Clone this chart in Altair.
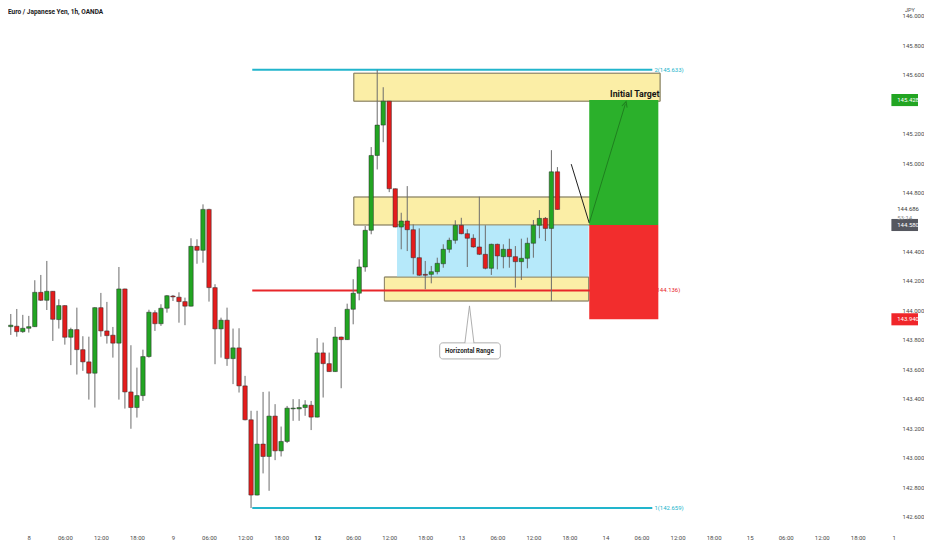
import altair as alt
import pandas as pd

# ---------------- data ----------------
slots = list(range(-4, 89))
opens = [143.922, 143.890, 143.893, 143.856, 143.879, 143.890, 144.123, 144.069, 144.130, 143.938,
         144.033, 143.818, 143.870, 143.734, 143.651, 143.574, 144.019, 143.861, 143.832, 143.778,
         144.146, 143.447, 143.341, 143.422, 143.687, 143.985, 143.910, 144.015, 144.098, 144.090,
         144.060, 144.029, 144.435, 144.408, 144.686, 144.155, 143.875, 143.934, 143.673, 143.746,
         143.488, 143.258, 142.747, 143.093, 143.009, 143.283, 143.047, 143.111, 143.332, 143.332,
         143.341, 143.357, 143.276, 143.712, 143.639, 143.585, 143.820, 143.802, 144.008, 144.117,
         144.295, 144.544, 145.052, 145.258, 145.420, 144.826, 144.566, 144.607, 144.548, 144.358,
         144.245, 144.245, 144.263, 144.317, 144.415, 144.476, 144.578, 144.521, 144.490, 144.431,
         144.381, 144.286, 144.449, 144.365, 144.415, 144.365, 144.331, 144.354, 144.456, 144.578,
         144.625, 144.557, 144.941]
highs = [144.024, 143.976, 144.010, 143.970, 143.963, 144.205, 144.241, 144.336, 144.132, 144.076,
         144.035, 143.883, 144.019, 143.825, 143.822, 144.022, 144.119, 144.058, 143.888, 144.295,
         144.148, 143.764, 143.612, 143.734, 144.005, 144.001, 144.042, 144.105, 144.105, 144.123,
         144.087, 144.490, 144.483, 144.720, 144.690, 144.178, 143.951, 144.019, 143.877, 143.879,
         143.556, 143.319, 143.319, 143.447, 143.450, 143.364, 143.212, 143.352, 143.398, 143.398,
         143.391, 143.386, 143.812, 143.782, 143.714, 143.888, 143.822, 144.046, 144.212, 144.347,
         144.573, 145.109, 145.633, 145.515, 145.422, 144.828, 144.663, 144.844, 144.584, 144.557,
         144.336, 144.302, 144.358, 144.449, 144.494, 144.612, 144.629, 144.551, 144.517, 144.772,
         144.578, 144.453, 144.453, 144.449, 144.487, 144.437, 144.487, 144.494, 144.614, 144.681,
         144.634, 145.088, 144.973]
lows = [143.820, 143.834, 143.822, 143.848, 143.850, 143.888, 144.064, 144.003, 143.793, 143.877,
        143.768, 143.629, 143.565, 143.590, 143.395, 143.341, 143.822, 143.775, 143.680, 143.395,
        143.334, 143.197, 143.273, 143.386, 143.680, 143.861, 143.895, 143.985, 144.064, 143.917,
        143.900, 144.027, 144.317, 144.324, 144.060, 143.635, 143.680, 143.624, 143.500, 143.443,
        143.254, 142.659, 142.745, 142.894, 142.776, 142.984, 143.009, 143.100, 143.251, 143.251,
        143.285, 143.188, 143.274, 143.409, 143.583, 143.583, 143.472, 143.800, 143.906, 144.069,
        144.263, 144.517, 144.957, 145.142, 144.803, 144.564, 144.415, 144.403, 144.245, 144.234,
        144.144, 144.184, 144.245, 144.290, 144.392, 144.453, 144.517, 144.295, 144.426, 144.376,
        144.279, 144.241, 144.279, 144.286, 144.290, 144.155, 144.207, 144.286, 144.358, 144.490,
        144.471, 144.064, 144.684]
closes = [143.902, 143.900, 143.856, 143.879, 143.890, 144.123, 144.069, 144.130, 143.940, 144.033,
          143.818, 143.870, 143.734, 143.651, 143.574, 144.019, 143.861, 143.829, 143.778, 144.146,
          143.447, 143.341, 143.422, 143.687, 143.988, 143.910, 144.015, 144.100, 144.092, 144.060,
          144.029, 144.435, 144.408, 144.686, 144.155, 143.875, 143.934, 143.673, 143.746, 143.488,
          143.258, 142.747, 143.093, 143.009, 143.283, 143.047, 143.111, 143.337, 143.337, 143.341,
          143.359, 143.276, 143.712, 143.639, 143.585, 143.820, 143.802, 144.008, 144.117, 144.295,
          144.544, 145.052, 145.258, 145.420, 144.826, 144.566, 144.607, 144.548, 144.358, 144.239,
          144.239, 144.263, 144.320, 144.415, 144.476, 144.578, 144.521, 144.490, 144.431, 144.381,
          144.286, 144.449, 144.370, 144.415, 144.365, 144.331, 144.354, 144.456, 144.578, 144.625,
          144.557, 144.941, 144.686]

tick_slots = list(range(0, 145, 6))
tick_labels = ["8", "06:00", "12:00", "18:00", "9", "06:00", "12:00", "18:00",
               "12", "06:00", "12:00", "18:00", "13", "06:00", "12:00", "18:00",
               "14", "06:00", "12:00", "18:00", "15", "06:00", "12:00", "18:00", "1"]
# 145.400 and 144.600 sit under the price tags in the picture
price_ticks = [142.6, 142.8, 143.0, 143.2, 143.4, 143.6, 143.8, 144.0, 144.2,
               144.4, 144.8, 145.0, 145.2, 145.6, 145.8, 146.0]

# zones: start slot, end slot, low price, high price
yellow_s0 = [54.1, 54.1, 59.2]
yellow_s1 = [105.1, 97.2, 93.2]
yellow_p0 = [145.420, 144.580, 144.064]
yellow_p1 = [145.610, 144.770, 144.227]
range_s = [61.3, 93.2]
range_p = [144.227, 144.580]
target_s = [93.3, 104.8]
target_p = [144.580, 145.428]
stop_p = [143.940, 144.580]

# horizontal levels
level_s0 = [37.2, 37.2, 37.2]
level_s1 = [103.8, 103.8, 103.8]
level_price = [145.633, 144.136, 142.659]
level_text = ["2(145.633)", "(144.136)", "1(142.659)"]
level_color = ["#22b5cc", "#e8262a", "#22b5cc"]

# projected path
path_s = [90.3, 93.3]
path_p = [144.993, 144.593]
arrow_s = [93.3, 99.3]
arrow_p = [144.593, 145.400]

# price tags on the scale
tag_price = [145.428, 144.580, 143.940]
tag_text = ["145.428", "144.580", "143.940"]
tag_color = ["#22a522", "#55575f", "#f0262a"]

# ---------------- chart ----------------
X0, X1 = -2.632, 148.03
P0, P1 = 142.505, 146.044
xs = alt.Scale(domain=[X0, X1], nice=False, zero=False)
ys = alt.Scale(domain=[P0, P1], nice=False, zero=False)

label_expr = "[" + ",".join("'%s'" % t for t in tick_labels) + "][round(datum.value/6)]"
xaxis = alt.Axis(values=tick_slots, labelExpr=label_expr, title=None, grid=False, ticks=False,
                 domain=False, labelFontSize=6, labelColor="#4a4a4a", labelFont="Roboto",
                 labelPadding=4, labelOverlap=False, labelBound=False, labelFlush=False,
                 labelFontWeight={"expr": "datum.value == 48 ? 'bold' : 'normal'"})
yaxis = alt.Axis(values=price_ticks, format=".3f", title=None, grid=False, ticks=False,
                 domain=False, orient="right", offset=-23, labelPadding=2, labelFontSize=6,
                 labelColor="#4a4a4a", labelFont="Roboto", labelOverlap=False)


def X(f):
    return alt.X(f + ":Q", scale=xs, axis=xaxis)


def Y(f):
    return alt.Y(f + ":Q", scale=ys, axis=yaxis)


candles = pd.DataFrame({"slot": slots, "open": opens, "high": highs,
                        "low": lows, "close": closes})
candles["dir"] = ["up" if c >= o else "down" for o, c in zip(opens, closes)]
dir_color = alt.Color("dir:N", scale=alt.Scale(domain=["up", "down"], range=["#22a522", "#e41c1c"]),
                      legend=None)

yellow = pd.DataFrame({"s0": yellow_s0, "s1": yellow_s1, "p0": yellow_p0, "p1": yellow_p1})
blue = pd.DataFrame({"s0": [range_s[0]], "s1": [range_s[1]], "p0": [range_p[0]], "p1": [range_p[1]]})
tp = pd.DataFrame({"s0": [target_s[0]] * 2, "s1": [target_s[1]] * 2,
                   "p0": [target_p[0], stop_p[0]], "p1": [target_p[1], stop_p[1]],
                   "c": ["#2bb02b", "#f22d2d"]})
levels = pd.DataFrame({"s0": level_s0, "s1": level_s1, "p": level_price,
                       "t": level_text, "c": level_color})
levels["tx"] = [s + 0.35 for s in level_s1]

yellow_layer = alt.Chart(yellow).mark_rect(fill="#fbeea6", stroke="#8c8466", strokeWidth=0.8).encode(
    x=X("s0"), x2="s1", y=Y("p0"), y2="p1")
blue_layer = alt.Chart(blue).mark_rect(fill="#b6e9fa").encode(x=X("s0"), x2="s1", y=Y("p0"), y2="p1")
yellow_outline = alt.Chart(yellow).mark_rect(fill=None, stroke="#8c8466", strokeWidth=0.8).encode(
    x=X("s0"), x2="s1", y=Y("p0"), y2="p1")
tp_layer = alt.Chart(tp).mark_rect().encode(x=X("s0"), x2="s1", y=Y("p0"), y2="p1",
                                             color=alt.Color("c:N", scale=None))
level_lines = alt.Chart(levels).mark_rule(strokeWidth=2).encode(
    x=X("s0"), x2="s1", y=Y("p"), color=alt.Color("c:N", scale=None))
level_labels = alt.Chart(levels).mark_text(align="left", baseline="middle", fontSize=6,
                                            font="Roboto").encode(
    x=X("tx"), y=Y("p"), text="t:N", color=alt.Color("c:N", scale=None))

wicks = alt.Chart(candles).mark_rule(color="#6b6b6b", strokeWidth=1, clip=True).encode(
    x=X("slot"), y=Y("low"), y2="high")
bodies = alt.Chart(candles).mark_bar(size=4.4, stroke="#2a2a2a", strokeWidth=0.5, clip=True).encode(
    x=X("slot"), y=Y("open"), y2="close", color=dir_color)

path = pd.DataFrame({"s": path_s, "p": path_p, "o": [0, 1]})
path_layer = alt.Chart(path).mark_line(color="#1e1e1e", strokeWidth=1).encode(
    x=X("s"), y=Y("p"), order="o:Q")
arrow = pd.DataFrame({"s": arrow_s, "p": arrow_p, "o": [0, 1]})
arrow_layer = alt.Chart(arrow).mark_line(color="#1f7f1f", strokeWidth=1).encode(
    x=X("s"), y=Y("p"), order="o:Q")
arrow_head = alt.Chart(arrow.iloc[[1]]).mark_point(shape="M-1,1L0,-1L1,1", filled=False, size=30,
                                                   angle=17, color="#1f7f1f", strokeWidth=1,
                                                   opacity=1).encode(x=X("s"), y=Y("p"))

target_text = alt.Chart(pd.DataFrame({"s": [105.0], "p": [145.468], "t": ["Initial Target"]})).mark_text(
    align="right", baseline="middle", fontSize=8.8, fontWeight="bold", font="Roboto",
    color="#151515").encode(x=X("s"), y=Y("p"), text="t:N")

# callout "Horizontal Range"
callout_box = alt.Chart(pd.DataFrame({"s0": [68.4], "s1": [78.5], "p0": [143.671], "p1": [143.780]})).mark_rect(
    fill="white", stroke="#9a9a9a", strokeWidth=0.8, cornerRadius=3).encode(
    x=X("s0"), x2="s1", y=Y("p0"), y2="p1")
pointer = pd.DataFrame({"s": [72.6, 73.36, 74.1], "p": [143.780, 144.031, 143.780], "o": [0, 1, 2]})
pointer_layer = alt.Chart(pointer).mark_line(color="#9a9a9a", strokeWidth=0.8).encode(
    x=X("s"), y=Y("p"), order="o:Q")
pointer_gap = alt.Chart(pd.DataFrame({"s0": [72.7], "s1": [74.0], "p": [143.780]})).mark_rule(
    color="white", strokeWidth=1.2).encode(x=X("s0"), x2="s1", y=Y("p"))
callout_text = alt.Chart(pd.DataFrame({"s": [73.36], "p": [143.725], "t": ["Horizontal Range"]})).mark_text(
    align="center", baseline="middle", fontSize=6.3, fontWeight="bold", font="Roboto",
    color="#2a2a2a").encode(x=X("s"), y=Y("p"), text="t:N")

# tags on price scale
tags = pd.DataFrame({"p": tag_price, "t": tag_text, "c": tag_color})
tags["lo"] = [p - 0.041 for p in tag_price]
tags["hi"] = [p + 0.041 for p in tag_price]
tags["s0"] = 143.6
tags["s1"] = X1
tags["tx"] = 144.57
tag_rects = alt.Chart(tags).mark_rect().encode(x=X("s0"), x2="s1", y=Y("lo"), y2="hi",
                                                color=alt.Color("c:N", scale=None))
tag_texts = alt.Chart(tags).mark_text(align="left", baseline="middle", fontSize=6, font="Roboto",
                                      color="white").encode(x=X("tx"), y=Y("p"), text="t:N")
cur = pd.DataFrame({"s": [144.57, 144.57], "p": [144.686, 144.627], "t": ["144.686", "53:14"],
                    "c": ["#3a3a3a", "#8a8a8a"]})
cur_text = alt.Chart(cur).mark_text(align="left", baseline="middle", fontSize=6, font="Roboto").encode(
    x=X("s"), y=Y("p"), text="t:N", color=alt.Color("c:N", scale=None))

title_text = alt.Chart(pd.DataFrame({"t": ["Euro / Japanese Yen, 1h, OANDA"]})).mark_text(
    align="left", baseline="top", fontSize=6.5, fontWeight="bold", font="Roboto", color="#1a1a1a").encode(
    x=alt.value(0), y=alt.value(0), text="t:N")
jpy_text = alt.Chart(pd.DataFrame({"t": ["JPY"]})).mark_text(
    align="left", baseline="top", fontSize=5.5, font="Roboto", color="#4a4a4a").encode(
    x=alt.value(898), y=alt.value(-1), text="t:N")

chart = alt.layer(
    yellow_layer, blue_layer, yellow_outline, level_lines, level_labels,
    wicks, bodies, tp_layer, path_layer, arrow_layer, arrow_head, target_text,
    callout_box, pointer_layer, pointer_gap, callout_text,
    tag_rects, tag_texts, cur_text, title_text, jpy_text
).properties(width=916, height=522, padding=0, background="white").configure_view(stroke=None)

chart.save("out.html", embed_options={"renderer": "svg", "actions": False})
